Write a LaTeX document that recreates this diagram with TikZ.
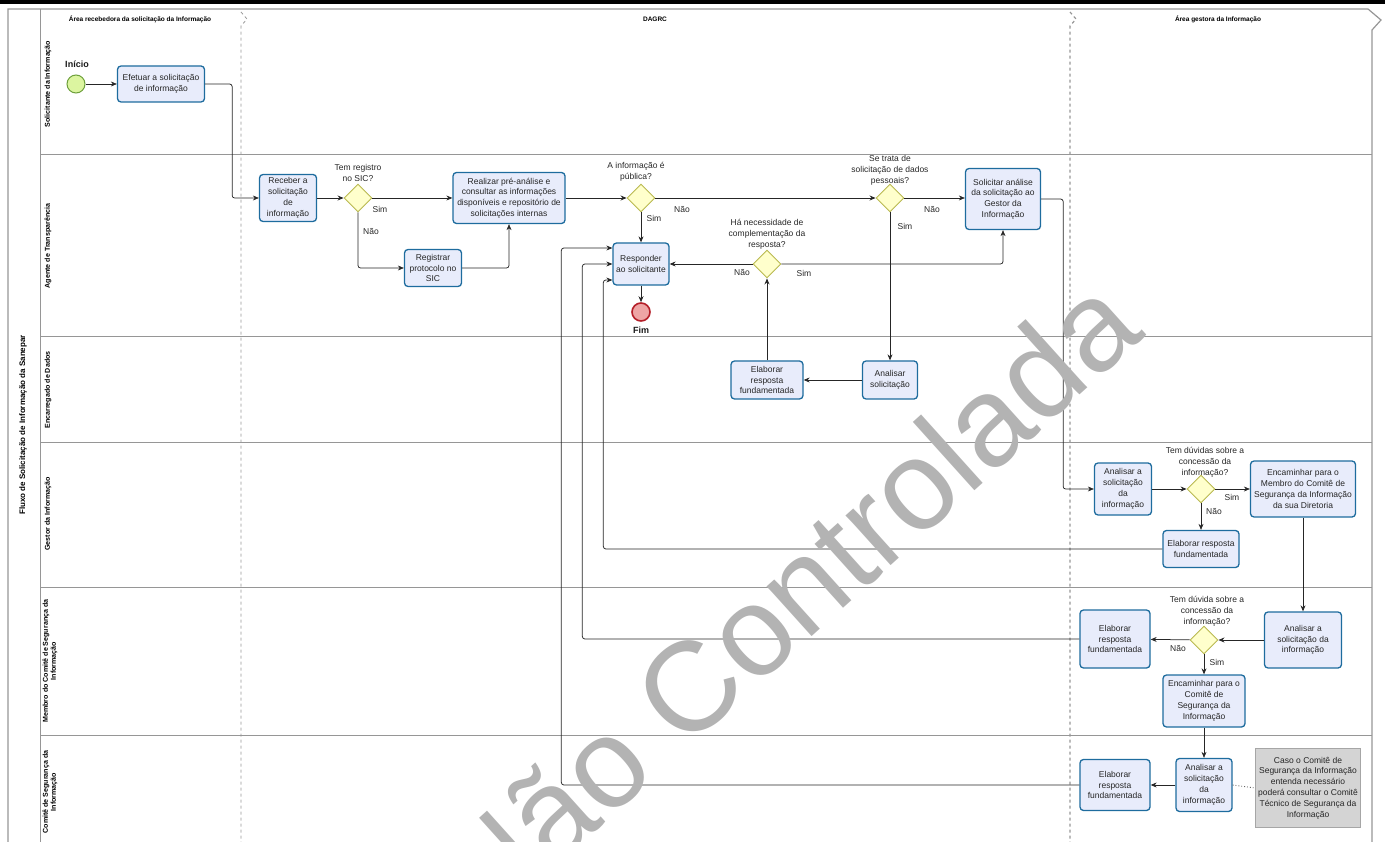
\documentclass[tikz,border=0pt]{standalone}
\usepackage{fontspec}
\setmainfont{Liberation Sans}
\usetikzlibrary{arrows.meta,shapes.geometric,positioning}

\begin{document}
\begin{tikzpicture}[x=1pt,y=-1pt,>={Stealth[length=6pt,width=5pt]},
  every node/.style={font=\fontsize{8.5}{10.8}\selectfont,text=black!85},
  task/.style={draw=taskborder,fill=taskfill,line width=1.3pt,rounded corners=3.5pt,align=center,inner sep=1pt},
  gateway/.style={diamond,aspect=1,draw=gateborder,fill=gatefill,line width=0.9pt,minimum size=28pt,inner sep=0pt},
  flow/.style={->,line width=0.75pt,black!85,rounded corners=2.5pt},
  lanehead/.style={rotate=90,font=\fontsize{7.1}{8}\selectfont\bfseries,align=center,text=black},
  milestone/.style={font=\fontsize{6.5}{8}\selectfont\bfseries,text=black},
  question/.style={align=center,inner sep=1pt},
  answer/.style={inner sep=1pt},
  eventlbl/.style={font=\fontsize{9}{10}\selectfont\bfseries,text=black!90}]
  \definecolor{taskfill}{RGB}{232,236,251}
  \definecolor{taskborder}{RGB}{30,108,158}
  \definecolor{gatefill}{RGB}{255,255,204}
  \definecolor{gateborder}{RGB}{185,185,80}
  \definecolor{startfill}{RGB}{220,245,160}
  \definecolor{startborder}{RGB}{110,160,60}
  \definecolor{endfill}{RGB}{238,165,165}
  \definecolor{endborder}{RGB}{180,30,40}
  \definecolor{notefill}{RGB}{212,212,212}
  \definecolor{laneline}{RGB}{150,150,150}
  \definecolor{watermark}{RGB}{179,179,179}
  \useasboundingbox (0,0) rectangle (1385,842);
  \clip (0,0) rectangle (1385,842);
  \fill[black] (0,0) rectangle (1385,4);
  \draw[laneline,line width=1.2pt] (8,849) -- (8,9) -- (1368,9) -- (1381,20) -- (1372,30) -- (1372,849);
  \draw[laneline,line width=1pt] (40,9) -- (40,849);
  \foreach \y in {155,337,442,587,735}
    \draw[laneline,line width=1pt] (40,\y) -- (1372,\y);
  \draw[laneline,dashed,line width=0.8pt] (241,12) -- (247,19) -- (241,26) -- (241,849);
  \draw[laneline,dashed,line width=1.2pt] (1070,12) -- (1076,19) -- (1070,26) -- (1070,849);
  \node[milestone] (hdrRecebedora) at (140,19) {Área recebedora da solicitação da Informação};
  \node[milestone] (hdrDagrc) at (655,19) {DAGRC};
  \node[milestone] (hdrGestora) at (1218,19) {Área gestora da Informação};
  \node[rotate=90,font=\fontsize{8}{10}\selectfont\bfseries,text=black] (titulo) at (23,425) {Fluxo de Solicitação de Informação da Sanepar};
  \node[lanehead] (laneSolicitante) at (48,84) {Solicitante da Informação};
  \node[lanehead] (laneAgente) at (48,246) {Agente de Transparência};
  \node[lanehead] (laneEncarregado) at (48,390) {Encarregado de Dados};
  \node[lanehead] (laneGestor) at (48,514) {Gestor da Informação};
  \node[lanehead] (laneMembro) at (50,661) {Membro do Comitê de Segurança da\\Informação};
  \node[lanehead] (laneComite) at (50,792) {Comitê de Segurança da\\Informação};

  \node[circle,draw=startborder,fill=startfill,line width=1pt,minimum size=18pt,inner sep=0pt] (inicio) at (76,84) {};
  \node[eventlbl] (inicioLbl) at (77,64) {Início};
  \node[task,minimum width=87,minimum height=36] (efetuar) at (161,84) {Efetuar a solicitação\\de informação};
  \node[task,minimum width=57,minimum height=47] (receber) at (288,198) {Receber a\\solicitação\\de\\informação};
  \node[gateway] (gwSic) at (358,198) {};
  \node[task,minimum width=112,minimum height=51] (preanalise) at (509,198) {Realizar pré-análise e\\consultar as informações\\disponíveis e repositório de\\solicitações internas};
  \node[task,minimum width=57,minimum height=37] (registrar) at (433,268) {Registrar\\protocolo no\\SIC};
  \node[gateway] (gwPublica) at (641,198) {};
  \node[task,minimum width=56,minimum height=42] (responder) at (641,264) {Responder\\ao solicitante};
  \node[circle,draw=endborder,fill=endfill,line width=1.6pt,minimum size=18pt,inner sep=0pt] (fim) at (641,312) {};
  \node[eventlbl] (fimLbl) at (641,330) {Fim};
  \node[gateway] (gwPessoais) at (890,198) {};
  \node[task,minimum width=75,minimum height=61] (solicitar) at (1003,199) {Solicitar análise\\da solicitação ao\\Gestor da\\Informação};
  \node[gateway] (gwComplem) at (767,264) {};
  \node[task,minimum width=55,minimum height=38] (analisarEnc) at (890,380) {Analisar\\solicitação};
  \node[task,minimum width=72,minimum height=38] (elaborarEnc) at (767,380) {Elaborar\\resposta\\fundamentada};
  \node[task,minimum width=57,minimum height=52] (analisarGestor) at (1123,489) {Analisar a\\solicitação\\da\\informação};
  \node[gateway] (gwDuvidaGestor) at (1201,489) {};
  \node[task,minimum width=105,minimum height=56] (encMembro) at (1303,489) {Encaminhar para o\\Membro do Comitê de\\Segurança da Informação\\da sua Diretoria};
  \node[task,minimum width=76,minimum height=37] (elaborarGestor) at (1201,549) {Elaborar resposta\\fundamentada};
  \node[task,minimum width=77,minimum height=56] (analisarMembro) at (1303,640) {Analisar a\\solicitação da\\informação};
  \node[gateway] (gwDuvidaMembro) at (1204,640) {};
  \node[task,minimum width=70,minimum height=58] (elaborarMembro) at (1115,639) {Elaborar\\resposta\\fundamentada};
  \node[task,minimum width=82,minimum height=52] (encComite) at (1204,701) {Encaminhar para o\\Comitê de\\Segurança da\\Informação};
  \node[task,minimum width=56,minimum height=53] (analisarComite) at (1204,785) {Analisar a\\solicitação\\da\\informação};
  \node[task,minimum width=70,minimum height=51] (elaborarComite) at (1115,785) {Elaborar\\resposta\\fundamentada};
  \node[draw=gray!70,fill=notefill,minimum width=105,minimum height=79,align=center,inner sep=2pt] (nota) at (1308,788) {Caso o Comitê de\\Segurança da Informação\\entenda necessário\\poderá consultar o Comitê\\Técnico de Segurança da\\Informação};

  \node[question,above=1pt of gwSic] (qSic) {Tem registro\\no SIC?};
  \node[question,above=1pt of gwPublica,xshift=-5pt] (qPublica) {A informação é\\pública?};
  \node[question,above=-3pt of gwPessoais] (qPessoais) {Se trata de\\solicitação de dados\\pessoais?};
  \node[question,above=-1pt of gwComplem] (qComplem) {Há necessidade de\\complementação da\\resposta?};
  \node[question,above=-4pt of gwDuvidaGestor,xshift=4pt] (qDuvidaGestor) {Tem dúvidas sobre a\\concessão da\\informação?};
  \node[question,above=-2pt of gwDuvidaMembro,xshift=3pt] (qDuvidaMembro) {Tem dúvida sobre a\\concessão da\\informação?};

  \node[answer] (simSic) at (380,209) {Sim};
  \node[answer] (naoSic) at (371,231) {Não};
  \node[answer] (simPublica) at (654,218) {Sim};
  \node[answer] (naoPublica) at (682,209) {Não};
  \node[answer] (naoPessoais) at (932,209) {Não};
  \node[answer] (simPessoais) at (905,226) {Sim};
  \node[answer] (naoComplem) at (742,272) {Não};
  \node[answer] (simComplem) at (804,273) {Sim};
  \node[answer] (simDuvidaGestor) at (1232,497) {Sim};
  \node[answer] (naoDuvidaGestor) at (1214,511) {Não};
  \node[answer] (naoDuvidaMembro) at (1178,648) {Não};
  \node[answer] (simDuvidaMembro) at (1217,662) {Sim};

  \draw[flow] (inicio) -- (efetuar);
  \draw[flow] (efetuar.east) -- ++(27,0) |- (receber.west);
  \draw[flow] (receber) -- (gwSic);
  \draw[flow] (gwSic) -- (preanalise);
  \draw[flow] (gwSic.south) |- (registrar.west);
  \draw[flow] (registrar.east) -| (preanalise.south);
  \draw[flow] (preanalise) -- (gwPublica);
  \draw[flow] (gwPublica) -- (responder);
  \draw[flow] (gwPublica) -- (gwPessoais);
  \draw[flow] (gwPessoais) -- (gwPessoais -| solicitar.west);
  \draw[flow] (gwPessoais) -- (analisarEnc);
  \draw[flow] (analisarEnc) -- (elaborarEnc);
  \draw[flow] (elaborarEnc) -- (gwComplem);
  \draw[flow] (gwComplem) -- (responder);
  \draw[flow] (gwComplem.east) -| (solicitar.south);
  \draw[flow] (responder) -- (fim);
  \draw[flow] (solicitar.east) -- ++(22,0) |- (analisarGestor.west);
  \draw[flow] (analisarGestor) -- (gwDuvidaGestor);
  \draw[flow] (gwDuvidaGestor) -- (encMembro);
  \draw[flow] (gwDuvidaGestor) -- (elaborarGestor);
  \draw[flow] (elaborarGestor.west) -| ([xshift=-9pt,yshift=-16pt]responder.west) -- ([yshift=-16pt]responder.west);
  \draw[flow] (encMembro) -- (analisarMembro);
  \draw[flow] (analisarMembro) -- (gwDuvidaMembro);
  \draw[flow] (gwDuvidaMembro) -- (elaborarMembro);
  \draw[flow] (gwDuvidaMembro) -- (encComite);
  \draw[flow] (elaborarMembro.west) -| ([xshift=-30pt]responder.west) -- (responder.west);
  \draw[flow] (encComite) -- (analisarComite);
  \draw[flow] (analisarComite) -- (elaborarComite);
  \draw[flow] (elaborarComite.west) -| ([xshift=-51pt,yshift=16pt]responder.west) -- ([yshift=16pt]responder.west);
  \draw[dotted,line width=0.9pt,gray!80!black] (analisarComite.east) -- (nota.west);

  \node[font=\fontsize{127}{127}\selectfont,text=watermark,rotate=42,anchor=base east,inner sep=0pt] (marca) at (1147,335) {Cópia Não Controlada};
\end{tikzpicture}
\end{document}
